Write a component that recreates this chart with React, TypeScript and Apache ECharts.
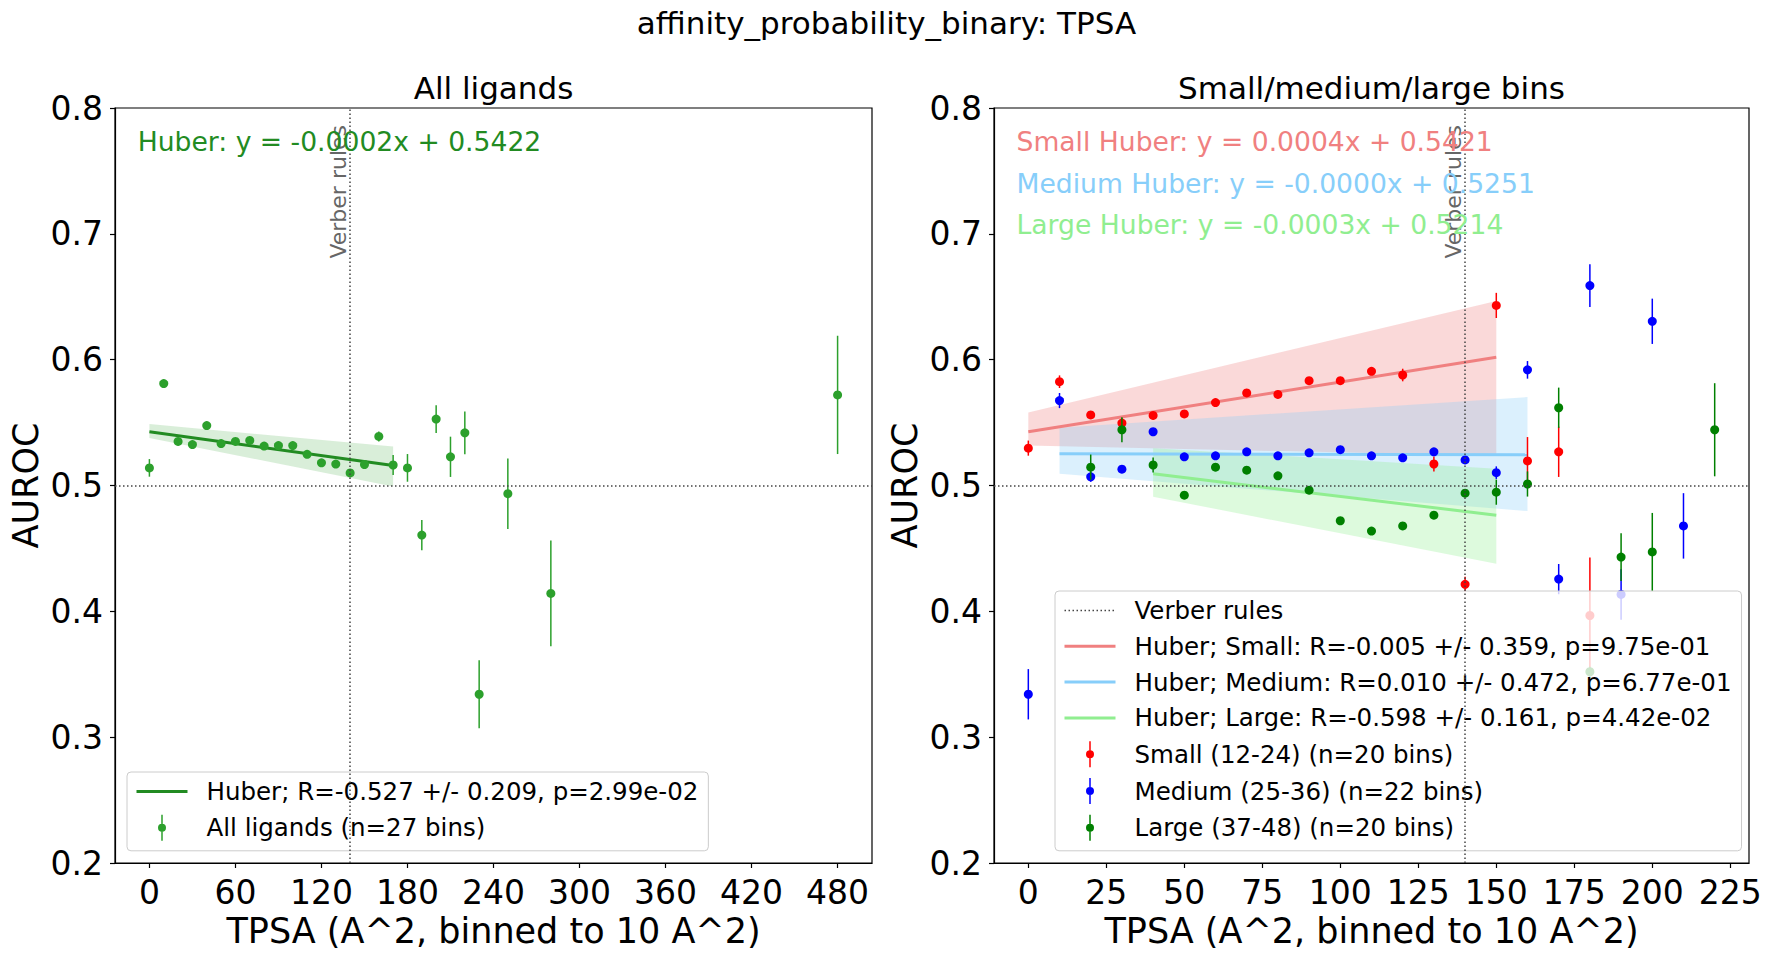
import React, { useEffect, useRef } from "react";
import * as echarts from "echarts";

const FONT = "DejaVu Sans";
const VERBER = 140;

// ---- left panel: all ligands ----
const allX = [0, 10, 20, 30, 40, 50, 60, 70, 80, 90, 100, 110, 120, 130, 140, 150, 160, 170, 180, 190, 200, 210, 220, 230, 250, 280, 480];
const allY = [0.514, 0.581, 0.535, 0.5325, 0.5476, 0.5333, 0.535, 0.5358, 0.5313, 0.5317, 0.5317, 0.5248, 0.518, 0.517, 0.51, 0.5167, 0.539, 0.5163, 0.514, 0.4606, 0.5528, 0.5228, 0.5419, 0.3341, 0.4935, 0.4142, 0.572];
const allErr = [0.007, 0.003, 0.003, 0.003, 0.003, 0.003, 0.003, 0.003, 0.003, 0.003, 0.003, 0.003, 0.003, 0.003, 0.003, 0.003, 0.004, 0.008, 0.011, 0.012, 0.011, 0.016, 0.017, 0.027, 0.028, 0.042, 0.047];
const allFitX = [0, 170];
const allFitY = [0.5427, 0.5159];
const allBandLo = [0.5378, 0.4992];
const allBandHi = [0.5488, 0.5309];

// ---- right panel: small / medium / large ----
const smallX = [0, 10, 20, 30, 40, 50, 60, 70, 80, 90, 100, 110, 120, 130, 140, 150, 160, 170, 180];
const smallY = [0.5297, 0.5825, 0.5561, 0.5496, 0.5557, 0.5569, 0.5659, 0.5736, 0.5724, 0.5833, 0.5833, 0.5907, 0.5878, 0.5171, 0.4215, 0.6431, 0.5195, 0.5268, 0.3967];
const smallErr = [0.006, 0.005, 0.003, 0.004, 0.003, 0.003, 0.003, 0.003, 0.003, 0.003, 0.003, 0.003, 0.005, 0.006, 0.006, 0.01, 0.019, 0.02, 0.046];

const medX = [0, 10, 20, 30, 40, 50, 60, 70, 80, 90, 100, 110, 120, 130, 140, 150, 160, 170, 180, 190, 200, 210];
const medY = [0.3341, 0.5675, 0.5069, 0.513, 0.5427, 0.5228, 0.5236, 0.5268, 0.5236, 0.526, 0.5285, 0.5236, 0.522, 0.5268, 0.5203, 0.5102, 0.5919, 0.4256, 0.6589, 0.4134, 0.6305, 0.4679];
const medErr = [0.02, 0.006, 0.004, 0.003, 0.003, 0.003, 0.003, 0.003, 0.003, 0.003, 0.003, 0.003, 0.003, 0.003, 0.003, 0.005, 0.007, 0.012, 0.017, 0.02, 0.018, 0.026];

const largeX = [20, 30, 40, 50, 60, 70, 80, 90, 100, 110, 120, 130, 140, 150, 160, 170, 180, 190, 200, 220];
const largeY = [0.5146, 0.5443, 0.5163, 0.4923, 0.5146, 0.5122, 0.5077, 0.4963, 0.472, 0.4638, 0.4679, 0.4764, 0.4939, 0.4947, 0.5012, 0.5618, 0.352, 0.4431, 0.4472, 0.5443];
const largeErr = [0.01, 0.01, 0.006, 0.003, 0.003, 0.003, 0.003, 0.003, 0.003, 0.003, 0.003, 0.003, 0.003, 0.01, 0.01, 0.016, 0.004, 0.019, 0.031, 0.037];

const smallFitX = [0, 150];
const smallFitY = [0.5427, 0.602];
const smallLo = [0.5317, 0.5236];
const smallHi = [0.5581, 0.6467];
const medFitX = [10, 160];
const medFitY = [0.5252, 0.5244];
const medLo = [0.5093, 0.4797];
const medHi = [0.5459, 0.5703];
const largeFitX = [40, 150];
const largeFitY = [0.5093, 0.4764];
const largeLo = [0.4911, 0.4378];
const largeHi = [0.5297, 0.5134];

const leftTicks = [0, 60, 120, 180, 240, 300, 360, 420, 480];
const rightTicks = [0, 25, 50, 75, 100, 125, 150, 175, 200, 225];

const NAME_ALL_FIT = "Huber; R=-0.527 +/- 0.209, p=2.99e-02";
const NAME_ALL = "All ligands (n=27 bins)";
const NAME_VERBER = "Verber rules";
const NAME_S_FIT = "Huber; Small: R=-0.005 +/- 0.359, p=9.75e-01";
const NAME_M_FIT = "Huber; Medium: R=0.010 +/- 0.472, p=6.77e-01";
const NAME_L_FIT = "Huber; Large: R=-0.598 +/- 0.161, p=4.42e-02";
const NAME_S = "Small (12-24) (n=20 bins)";
const NAME_M = "Medium (25-36) (n=22 bins)";
const NAME_L = "Large (37-48) (n=20 bins)";

const ERR_ICON = "path://M3.25,0h1.5v26h-1.5z M0,13a4,4 0 1,1 8,0a4,4 0 1,1 -8,0z";
const DOT_STYLE = { color: "#444", type: [1.5, 2.5], width: 1.5 };
const R = 4.5;

function errSeries(name: string, xs: number[], ys: number[], es: number[], color: string, idx: number, z: number) {
  return {
    type: "custom",
    name,
    xAxisIndex: idx,
    yAxisIndex: idx,
    z,
    itemStyle: { color },
    data: xs.map((x, i) => [x, ys[i], es[i]]),
    encode: { x: 0, y: 1 },
    renderItem: (_p: any, api: any) => {
      const x = api.value(0);
      const y = api.value(1);
      const e = api.value(2);
      const c = api.coord([x, y]);
      const lo = api.coord([x, y - e]);
      const hi = api.coord([x, y + e]);
      return {
        type: "group",
        children: [
          { type: "line", shape: { x1: lo[0], y1: lo[1], x2: hi[0], y2: hi[1] }, style: { stroke: color, lineWidth: 1.5 } },
          { type: "circle", shape: { cx: c[0], cy: c[1], r: R }, style: { fill: color } },
        ],
      };
    },
  };
}

function bandSeries(xs: number[], lo: number[], hi: number[], color: string, idx: number) {
  return {
    type: "custom",
    xAxisIndex: idx,
    yAxisIndex: idx,
    z: 1,
    silent: true,
    data: [[xs[0], lo[0]]],
    renderItem: (_p: any, api: any) => {
      const top = xs.map((x, i) => api.coord([x, hi[i]]));
      const bot = xs.map((x, i) => api.coord([x, lo[i]])).reverse();
      return { type: "polygon", shape: { points: top.concat(bot) }, style: { fill: color } };
    },
  };
}

function fitSeries(name: string, xs: number[], ys: number[], color: string, idx: number) {
  return {
    type: "line",
    name,
    xAxisIndex: idx,
    yAxisIndex: idx,
    z: 2,
    symbol: "none",
    lineStyle: { color, width: 3 },
    itemStyle: { color },
    data: xs.map((x, i) => [x, ys[i]]),
  };
}

function refSeries(name: string | undefined, idx: number) {
  return {
    type: "line",
    name,
    xAxisIndex: idx,
    yAxisIndex: idx,
    z: 2,
    symbol: "none",
    lineStyle: DOT_STYLE,
    itemStyle: { color: "#444" },
    data: [],
    markLine: {
      silent: true,
      symbol: ["none", "none"],
      lineStyle: DOT_STYLE,
      data: [
        {
          xAxis: VERBER,
          label: {
            show: true,
            formatter: "Verber rules",
            position: "insideEndTop",
            distance: [17, 1],
            color: "#666",
            fontSize: 22,
            fontFamily: FONT,
          },
        },
        { yAxis: 0.5, label: { show: false } },
      ],
    },
  };
}

function xAxisCfg(idx: number, min: number, max: number, ticks: number[]) {
  return {
    type: "value",
    gridIndex: idx,
    min,
    max,
    axisLine: { show: true, onZero: false, lineStyle: { color: "#000", width: 1.2 } },
    splitLine: { show: false },
    axisTick: { show: true, length: 5, customValues: ticks, lineStyle: { color: "#000", width: 1.2 } },
    axisLabel: { customValues: ticks, margin: 13, fontSize: 33, color: "#000", fontFamily: FONT },
    name: "TPSA (A^2, binned to 10 A^2)",
    nameLocation: "middle",
    nameGap: 46,
    nameTextStyle: { fontSize: 35, color: "#000", fontFamily: FONT },
  };
}

function yAxisCfg(idx: number) {
  return {
    type: "value",
    gridIndex: idx,
    min: 0.2,
    max: 0.8,
    interval: 0.1,
    axisLine: { show: true, onZero: false, lineStyle: { color: "#000", width: 1.2 } },
    splitLine: { show: false },
    axisTick: { show: true, length: 5, lineStyle: { color: "#000", width: 1.2 } },
    axisLabel: { margin: 12, fontSize: 33, color: "#000", fontFamily: FONT, formatter: (v: number) => v.toFixed(1) },
    name: "AUROC",
    nameLocation: "middle",
    nameGap: 72,
    nameTextStyle: { fontSize: 35, color: "#000", fontFamily: FONT },
  };
}

function legendCfg(left: number, top: number, data: any[]) {
  return {
    left,
    top,
    orient: "vertical",
    padding: [7, 10, 10, 8],
    itemGap: 10.8,
    itemWidth: 51,
    itemHeight: 26,
    selectedMode: false,
    backgroundColor: "rgba(255,255,255,0.8)",
    borderColor: "#cccccc",
    borderWidth: 1,
    borderRadius: 4,
    textStyle: { fontSize: 24.5, color: "#000", fontFamily: FONT, padding: [0, 0, 0, 14] },
    data,
  };
}

const HIDE_SYM = { opacity: 0 };
const FIT_ICON_LINE = { width: 3 };
const REF_ICON_LINE = { width: 1.5, type: [1.5, 2.5] };

function txt(text: string, x: number, y: number, size: number, fill: string, align = "left") {
  return {
    type: "text",
    z: 10,
    x,
    y,
    style: { text, fill, fontSize: size, fontFamily: FONT, align, verticalAlign: "middle" },
  };
}

export default function App() {
  const ref = useRef<HTMLDivElement>(null);
  useEffect(() => {
    if (!ref.current) return;
    const chart = echarts.init(ref.current, null, { renderer: "svg" });
    chart.setOption({
      animation: false,
      backgroundColor: "#ffffff",
      grid: [
        { left: 115, top: 108, width: 757, height: 755, show: true, borderColor: "#000", borderWidth: 1.2, backgroundColor: "transparent" },
        { left: 994, top: 108, width: 755, height: 755, show: true, borderColor: "#000", borderWidth: 1.2, backgroundColor: "transparent" },
      ],
      xAxis: [xAxisCfg(0, -24, 504, leftTicks), xAxisCfg(1, -11, 231, rightTicks)],
      yAxis: [yAxisCfg(0), yAxisCfg(1)],
      legend: [
        legendCfg(127, 772, [
          { name: NAME_ALL_FIT, itemStyle: HIDE_SYM, lineStyle: FIT_ICON_LINE },
          { name: NAME_ALL, icon: ERR_ICON },
        ]),
        legendCfg(1055, 591, [
          { name: NAME_VERBER, itemStyle: HIDE_SYM, lineStyle: REF_ICON_LINE },
          { name: NAME_S_FIT, itemStyle: HIDE_SYM, lineStyle: FIT_ICON_LINE },
          { name: NAME_M_FIT, itemStyle: HIDE_SYM, lineStyle: FIT_ICON_LINE },
          { name: NAME_L_FIT, itemStyle: HIDE_SYM, lineStyle: FIT_ICON_LINE },
          { name: NAME_S, icon: ERR_ICON },
          { name: NAME_M, icon: ERR_ICON },
          { name: NAME_L, icon: ERR_ICON },
        ]),
      ],
      graphic: [
        txt("affinity_probability_binary: TPSA", 886.5, 22.5, 31, "#000", "center"),
        txt("All ligands", 493.5, 88, 31, "#000", "center"),
        txt("Small/medium/large bins", 1371.5, 88, 31, "#000", "center"),
        txt("Huber: y = -0.0002x + 0.5422", 137.7, 141.5, 26.6, "#228B22"),
        txt("Small Huber: y = 0.0004x + 0.5421", 1016.5, 141.5, 26.6, "#F08080"),
        txt("Medium Huber: y = -0.0000x + 0.5251", 1016.5, 183, 26.6, "#87CEFA"),
        txt("Large Huber: y = -0.0003x + 0.5214", 1016.5, 224.5, 26.6, "#90EE90"),
      ],
      series: [
        // left
        refSeries(undefined, 0),
        bandSeries(allFitX, allBandLo, allBandHi, "rgba(44,160,44,0.18)", 0),
        fitSeries(NAME_ALL_FIT, allFitX, allFitY, "#228B22", 0),
        errSeries(NAME_ALL, allX, allY, allErr, "#2ca02c", 0, 3),
        // right
        refSeries(NAME_VERBER, 1),
        bandSeries(smallFitX, smallLo, smallHi, "rgba(240,128,128,0.3)", 1),
        bandSeries(medFitX, medLo, medHi, "rgba(135,206,250,0.3)", 1),
        bandSeries(largeFitX, largeLo, largeHi, "rgba(144,238,144,0.3)", 1),
        fitSeries(NAME_S_FIT, smallFitX, smallFitY, "#F08080", 1),
        fitSeries(NAME_M_FIT, medFitX, medFitY, "#87CEFA", 1),
        fitSeries(NAME_L_FIT, largeFitX, largeFitY, "#90EE90", 1),
        errSeries(NAME_S, smallX, smallY, smallErr, "#ff0000", 1, 3),
        errSeries(NAME_M, medX, medY, medErr, "#0000ff", 1, 3),
        errSeries(NAME_L, largeX, largeY, largeErr, "#008000", 1, 3),
      ],
    });
    return () => chart.dispose();
  }, []);
  return (
    <div
      ref={ref}
      style={{ position: "fixed", left: 0, top: 0, width: 1773, height: 956, background: "#fff" }}
    />
  );
}
